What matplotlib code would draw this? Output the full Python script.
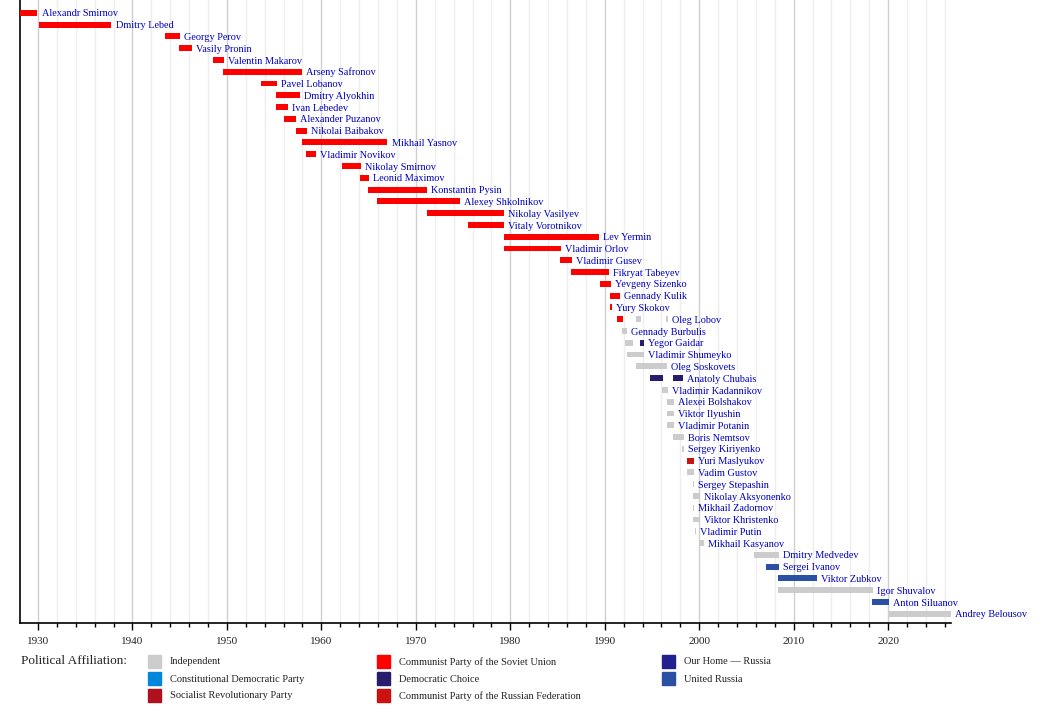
import matplotlib
matplotlib.use("Agg")
from matplotlib import pyplot as plt
from matplotlib.patches import Rectangle

names = [
    "Alexandr Smirnov", "Dmitry Lebed", "Georgy Perov", "Vasily Pronin",
    "Valentin Makarov", "Arseny Safronov", "Pavel Lobanov", "Dmitry Alyokhin",
    "Ivan Lebedev", "Alexander Puzanov", "Nikolai Baibakov", "Mikhail Yasnov",
    "Vladimir Novikov", "Nikolay Smirnov", "Leonid Maximov", "Konstantin Pysin",
    "Alexey Shkolnikov", "Nikolay Vasilyev", "Vitaly Vorotnikov", "Lev Yermin",
    "Vladimir Orlov", "Vladimir Gusev", "Fikryat Tabeyev", "Yevgeny Sizenko",
    "Gennady Kulik", "Yury Skokov", "Oleg Lobov", "Gennady Burbulis",
    "Yegor Gaidar", "Vladimir Shumeyko", "Oleg Soskovets", "Anatoly Chubais",
    "Vladimir Kadannikov", "Alexei Bolshakov", "Viktor Ilyushin", "Vladimir Potanin",
    "Boris Nemtsov", "Sergey Kiriyenko", "Yuri Maslyukov", "Vadim Gustov",
    "Sergey Stepashin", "Nikolay Aksyonenko", "Mikhail Zadornov", "Viktor Khristenko",
    "Vladimir Putin", "Mikhail Kasyanov", "Dmitry Medvedev", "Sergei Ivanov",
    "Viktor Zubkov", "Igor Shuvalov", "Anton Siluanov", "Andrey Belousov",
]

# one entry per term: row index, start year, end year, party
term_row = [0, 1, 2, 3, 4, 5, 6, 7, 8, 9, 10, 11, 12, 13, 14, 15, 16, 17, 18, 19,
            20, 21, 22, 23, 24, 25, 26, 26, 26, 27, 28, 28, 29, 30, 31, 31,
            32, 33, 34, 35, 36, 37, 38, 39, 40, 41, 42, 43, 44, 45,
            46, 47, 48, 49, 50, 51]
term_start = [1928.1, 1930.07, 1943.45, 1944.9, 1948.5, 1949.56, 1953.6, 1955.18,
              1955.18, 1956.03, 1957.3, 1957.93, 1958.37, 1962.17, 1964.07, 1964.92,
              1965.87, 1971.17, 1975.52, 1979.33, 1979.33, 1985.26, 1986.43, 1989.48,
              1990.56, 1990.56, 1991.3, 1993.31, 1996.5, 1991.83, 1992.15, 1993.74,
              1992.36, 1993.31, 1994.79, 1997.23, 1996.06, 1996.6, 1996.6, 1996.6,
              1997.23, 1998.18, 1998.71, 1998.71, 1999.34, 1999.34, 1999.34, 1999.34,
              1999.55, 1999.98, 2005.8, 2007.07, 2008.34, 2008.34, 2018.3, 2020.05]
term_end = [1929.95, 1937.78, 1945.01, 1946.28, 1949.67, 1957.93, 1955.26, 1957.72,
            1956.45, 1957.27, 1958.46, 1966.99, 1959.38, 1964.18, 1965.02, 1971.17,
            1974.66, 1979.33, 1979.33, 1989.4, 1985.37, 1986.53, 1990.46, 1990.65,
            1991.62, 1990.77, 1991.94, 1993.84, 1996.7, 1992.36, 1993.0, 1994.17,
            1994.17, 1996.6, 1996.17, 1998.29, 1996.7, 1997.33, 1997.33, 1997.33,
            1998.4, 1998.37, 1999.45, 1999.45, 1999.45, 2000.09, 1999.45, 2000.09,
            1999.66, 2000.51, 2008.45, 2008.45, 2012.47, 2018.4, 2020.1, 2026.6]
term_party = ["CPSU"] * 26 + ["CPSU", "IND", "IND", "IND", "IND", "DC",
              "IND", "IND", "DC", "DC", "IND", "IND", "IND", "IND",
              "IND", "IND", "CPRF", "IND", "IND", "IND", "IND", "IND",
              "IND", "IND", "IND", "UR", "UR", "IND", "UR", "IND"]

party_keys = ["IND", "KD", "SR", "CPSU", "DC", "CPRF", "NDR", "UR"]
party_labels = ["Independent", "Constitutional Democratic Party",
                "Socialist Revolutionary Party", "Communist Party of the Soviet Union",
                "Democratic Choice", "Communist Party of the Russian Federation",
                "Our Home \u2014 Russia", "United Russia"]
party_colors = ["#cccccc", "#0087dc", "#b0101e", "#ff0000",
                "#261d6d", "#cc1111", "#21208e", "#2b4fa3"]
colors = dict(zip(party_keys, party_colors))

x_min, x_max = 1928.1, 2026.65
font = "Liberation Serif"

fig = plt.figure(figsize=(10.5, 7.12), dpi=100)
W, H = 1050, 712
ax = fig.add_axes([20 / W, 1 - 623 / H, (951 - 20) / W, 623 / H])

for r, s, e, p in zip(term_row, term_start, term_end, term_party):
    ax.barh(r, e - s, left=s, height=0.5, color=colors[p], zorder=3)

last_end = {}
for r, e in zip(term_row, term_end):
    last_end[r] = max(last_end.get(r, 0), e)
for i, name in enumerate(names):
    ax.annotate(name, xy=(last_end[i], i), xytext=(3, -2.6), textcoords="offset points",
                va="baseline", ha="left", fontsize=7.4, color="#0000c0",
                family=font, zorder=4, annotation_clip=False)

ax.set_xlim(x_min, x_max)
ax.set_ylim(51 + 9.2 / 11.78, -12.8 / 11.78)

for y in range(1930, 2027, 2):
    ax.axvline(y, color="#d0d0d0" if y % 10 == 0 else "#eeeeee", lw=1, zorder=1)

ax.set_xticks(range(1930, 2021, 10))
ax.set_xticks(range(1930, 2027, 2), minor=True)
ax.set_yticks([])
ax.tick_params(axis="x", which="major", length=5, width=1, pad=5, labelsize=8)
ax.tick_params(axis="x", which="minor", length=3, width=1)
for lab in ax.get_xticklabels():
    lab.set_family(font)
    lab.set_color("#222222")
for side in ["top", "right"]:
    ax.spines[side].set_visible(False)
ax.spines["left"].set_linewidth(1.2)
ax.spines["bottom"].set_linewidth(1.2)

# legend
fig.text(21 / W, 1 - 661 / H, "Political Affiliation:", fontsize=9.5,
         family=font, va="center", ha="left", color="#222222")
col_x = [148, 377, 662]
row_y = [661, 678, 695]
for k, (lab, c) in enumerate(zip(party_labels, party_colors)):
    cx = col_x[k // 3]
    cy = row_y[k % 3]
    fig.patches.append(Rectangle(((cx) / W, 1 - (cy + 6.5) / H), 13 / W, 13 / H,
                                 transform=fig.transFigure, color=c, figure=fig))
    fig.text((cx + 22) / W, 1 - (cy + 1) / H, lab, fontsize=7.5, family=font,
             va="center", ha="left", color="#222222")

fig.savefig("out.png", dpi=100)
